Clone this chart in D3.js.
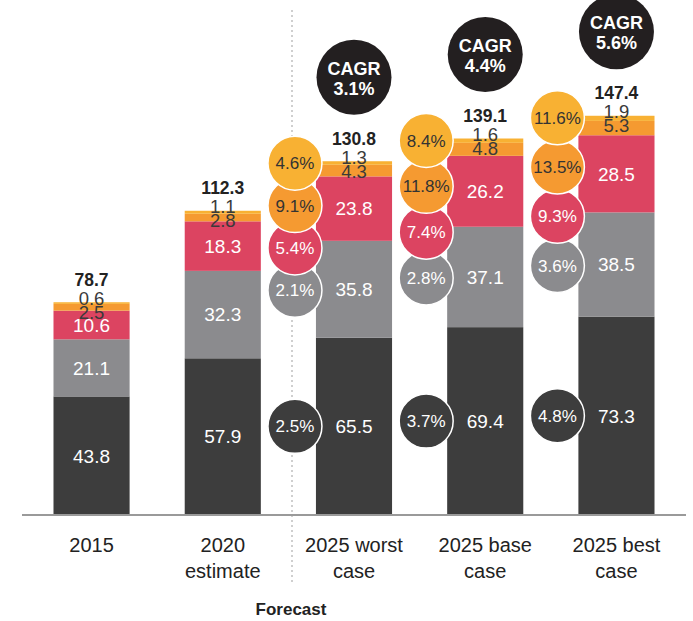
<!DOCTYPE html>
<html><head><meta charset="utf-8">
<script src="https://cdn.jsdelivr.net/npm/d3@7"></script>
<style>body{margin:0;background:#fff}svg{display:block;font-family:"Liberation Sans",Arial,sans-serif}</style>
</head><body><svg id="c" width="693" height="621"></svg>
<script>
const categories = ["2015", "2020 estimate", "2025 worst case", "2025 base case", "2025 best case"];
const catLines = [["2015"], ["2020", "estimate"], ["2025 worst", "case"], ["2025 base", "case"], ["2025 best", "case"]];
const seriesKeys = ["s1", "s2", "s3", "s4", "s5"];
const s1 = [43.8, 57.9, 65.5, 69.4, 73.3];
const s2 = [21.1, 32.3, 35.8, 37.1, 38.5];
const s3 = [10.6, 18.3, 23.8, 26.2, 28.5];
const s4 = [2.5, 2.8, 4.3, 4.8, 5.3];
const s5 = [0.6, 1.1, 1.3, 1.6, 1.9];
const totals = [78.7, 112.3, 130.8, 139.1, 147.4];
const cagrTotal = [null, null, "3.1%", "4.4%", "5.6%"];
const cagr1 = [null, null, "2.5%", "3.7%", "4.8%"];
const cagr2 = [null, null, "2.1%", "2.8%", "3.6%"];
const cagr3 = [null, null, "5.4%", "7.4%", "9.3%"];
const cagr4 = [null, null, "9.1%", "11.8%", "13.5%"];
const cagr5 = [null, null, "4.6%", "8.4%", "11.6%"];
const colors = ["#3d3d3d", "#8b8b8e", "#dc4461", "#f59a31", "#f8b133"];

const svg = d3.select("#c");
const data = categories.map((c, i) => ({cat: c, s1: s1[i], s2: s2[i], s3: s3[i], s4: s4[i], s5: s5[i]}));
const stack = d3.stack().keys(seriesKeys)(data);

const x = d3.scaleBand().domain(categories).range([22, 686]).paddingInner(0.42).paddingOuter(0.24);
const y = d3.scaleLinear().domain([0, 150]).range([515, 109]);
const cx = c => x(c) + x.bandwidth() / 2;

// dotted separator
svg.append("line").attr("x1", 292).attr("x2", 292).attr("y1", 10).attr("y2", 582)
  .attr("stroke", "#cfcfcf").attr("stroke-width", 2).attr("stroke-dasharray", "2,3");

// bars
stack.forEach((layer, li) => {
  svg.append("g").selectAll("rect").data(layer).join("rect")
    .attr("x", d => x(d.data.cat)).attr("width", x.bandwidth())
    .attr("y", d => y(d[1])).attr("height", d => y(d[0]) - y(d[1]))
    .attr("fill", colors[li]);
});

// axis
const axis = svg.append("g").attr("transform", "translate(0,515)")
  .call(d3.axisBottom(x).tickSize(0).tickFormat(""));
axis.select(".domain").attr("stroke", "#9a9a9a").attr("stroke-width", 2).attr("d", "M22,0H686");
axis.selectAll(".tick").each(function(d, i) {
  const t = d3.select(this).append("text").attr("fill", "#222").attr("font-size", 20)
    .attr("text-anchor", "middle").attr("y", 37);
  catLines[i].forEach((ln, k) => t.append("tspan").attr("x", 0).attr("dy", k === 0 ? 0 : 26).text(ln));
});

// segment labels (inside)
[0, 1, 2].forEach(li => {
  svg.append("g").selectAll("text").data(stack[li]).join("text")
    .attr("x", d => cx(d.data.cat)).attr("y", d => (y(d[0]) + y(d[1])) / 2)
    .attr("dy", "0.36em").attr("text-anchor", "middle").attr("fill", "#fff").attr("font-size", 19)
    .text(d => (d[1] - d[0]).toFixed(1));
});
// small labels
const g = svg.append("g");
categories.forEach((c, i) => {
  const top = y(stack[4][i][1]);
  g.append("text").attr("x", cx(c)).attr("y", top + 10).attr("dy", "0.36em").attr("text-anchor", "middle")
    .attr("fill", "#3a3a3a").attr("font-size", 18.5).text(s4[i].toFixed(1));
  g.append("text").attr("x", cx(c)).attr("y", top - 4).attr("dy", "0.36em").attr("text-anchor", "middle")
    .attr("fill", "#3a3a3a").attr("font-size", 18.5).text(s5[i].toFixed(1));
  g.append("text").attr("x", cx(c)).attr("y", top - 23).attr("dy", "0.36em").attr("text-anchor", "middle")
    .attr("fill", "#222").attr("font-size", 17.5).attr("font-weight", "bold").text(totals[i].toFixed(1));
});

// CAGR circles
const cg = svg.append("g");
categories.forEach((c, i) => {
  if (!cagrTotal[i]) return;
  const top = y(stack[4][i][1]);
  const ccx = x(c) - 21;
  const bubble = (cy, col, txt, tcol) => {
    cg.append("circle").attr("cx", ccx).attr("cy", cy).attr("r", 27).attr("fill", col)
      .attr("stroke", "#fff").attr("stroke-width", 1.5);
    cg.append("text").attr("x", ccx).attr("y", cy).attr("dy", "0.36em").attr("text-anchor", "middle")
      .attr("fill", tcol).attr("font-size", 17).text(txt);
  };
  const gTop = top + 2;
  const gBot = (y(stack[1][i][0]) + y(stack[1][i][1])) / 2 + 1;
  const step = (gBot - gTop) / 3;
  bubble(gBot, colors[1], cagr2[i], "#fff");
  bubble(gBot - step, colors[2], cagr3[i], "#fff");
  bubble(gBot - 2 * step, colors[3], cagr4[i], "#333");
  bubble(gTop, colors[4], cagr5[i], "#333");
  bubble((y(stack[0][i][0]) + y(stack[0][i][1])) / 2, colors[0], cagr1[i], "#fff");

  const ty = top - 84;
  cg.append("circle").attr("cx", cx(c)).attr("cy", ty).attr("r", 37.5).attr("fill", "#231f20");
  cg.append("text").attr("x", cx(c)).attr("y", ty - 9).attr("dy", "0.36em").attr("text-anchor", "middle")
    .attr("fill", "#fff").attr("font-size", 18).attr("font-weight", "bold").text("CAGR");
  cg.append("text").attr("x", cx(c)).attr("y", ty + 11).attr("dy", "0.36em").attr("text-anchor", "middle")
    .attr("fill", "#fff").attr("font-size", 18).attr("font-weight", "bold").text(cagrTotal[i]);
});

svg.append("text").attr("x", 291).attr("y", 609).attr("dy", "0.36em").attr("text-anchor", "middle")
  .attr("fill", "#222").attr("font-size", 17).attr("font-weight", "bold").text("Forecast");
</script></body></html>
